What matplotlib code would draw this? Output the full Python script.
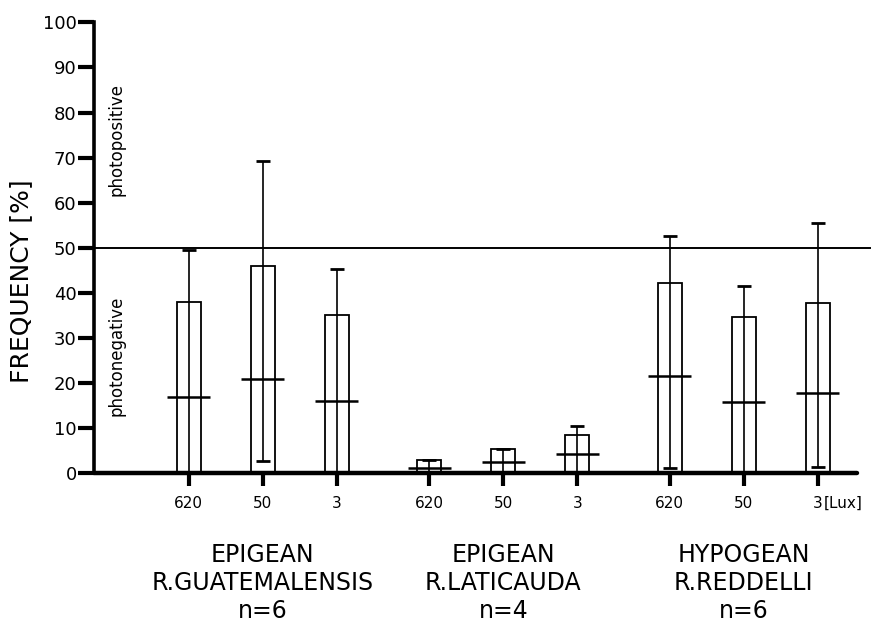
import matplotlib
matplotlib.use('Agg')
import matplotlib.pyplot as plt
import numpy as np

# Light intensity per trial (Lux), three species groups
lux_labels = ['620', '50', '3', '620', '50', '3', '620', '50', '3']
positions = [0, 1, 2, 3.25, 4.25, 5.25, 6.5, 7.5, 8.5]

# Mean frequency (bar height), median (cross line) and range of the whiskers [%]
means = [38.0, 46.0, 35.2, 3.0, 5.3, 8.6, 42.1, 34.6, 37.8]
medians = [17.0, 21.0, 16.0, 1.2, 2.6, 4.2, 21.5, 15.8, 17.8]
upper = [49.6, 69.3, 45.2, 3.0, 5.3, 10.4, 52.6, 41.5, 55.6]
lower = [0.0, 2.8, 0.0, 0.0, 0.0, 0.0, 1.2, 0.0, 1.3]

group_centers = [1, 4.25, 7.5]
group_names = ['EPIGEAN\nR.GUATEMALENSIS\nn=6',
               'EPIGEAN\nR.LATICAUDA\nn=4',
               'HYPOGEAN\nR.REDDELLI\nn=6']

fig = plt.figure(figsize=(8.73, 6.3), dpi=100)
ax = fig.add_axes([0.1077, 0.2487, 0.874, 0.7159])

pos = np.array(positions)
m = np.array(means)

# open bars
ax.bar(pos, m, width=0.32, fill=False, edgecolor='black', linewidth=1.3, zorder=2)

# whiskers
yerr = np.array([m - np.array(lower), np.array(upper) - m])
ax.errorbar(pos, m, yerr=yerr, fmt='none', ecolor='black', elinewidth=1.2,
            capsize=5, capthick=2.0, zorder=3)

# median cross lines
ax.hlines(medians, pos - 0.29, pos + 0.29, colors='black', linewidth=1.8, zorder=3)

# 50 % boundary
ax.plot([-1.28, 9.2], [50, 50], color='black', linewidth=1.4, clip_on=False, zorder=1)

ax.set_xlim(-1.28, 9.03)
ax.set_ylim(0, 100)
ax.set_yticks(range(0, 101, 10))
ax.set_xticks(positions)
ax.set_xticklabels(lux_labels, fontsize=11)
ax.tick_params(axis='y', direction='out', length=11.5, width=3, pad=1, labelsize=13)
ax.tick_params(axis='x', direction='out', length=9, width=3, pad=7)

for side in ['top', 'right']:
    ax.spines[side].set_visible(False)
ax.spines['left'].set_linewidth(2.6)
ax.spines['bottom'].set_linewidth(3.2)
ax.spines['bottom'].set_capstyle('round')

ax.set_ylabel('FREQUENCY [%]', fontsize=18, labelpad=8)
ax.yaxis.set_label_coords(-0.08, 0.425)

ax.text(-0.97, 74, 'photopositive', rotation=90, ha='center', va='center', fontsize=12)
ax.text(-0.97, 26, 'photonegative', rotation=90, ha='center', va='center', fontsize=12)

# unit after the last tick label
ax.annotate('[Lux]', xy=(8.5, 0), xycoords=('data', 'axes fraction'),
            xytext=(4, -16), textcoords='offset points', ha='left', va='top', fontsize=11)

for xc, name in zip(group_centers, group_names):
    ax.annotate(name, xy=(xc, 0), xycoords=('data', 'axes fraction'),
                xytext=(0, -50), textcoords='offset points', ha='center', va='top',
                fontsize=17, linespacing=1.22)

fig.savefig('out.png', dpi=100)
